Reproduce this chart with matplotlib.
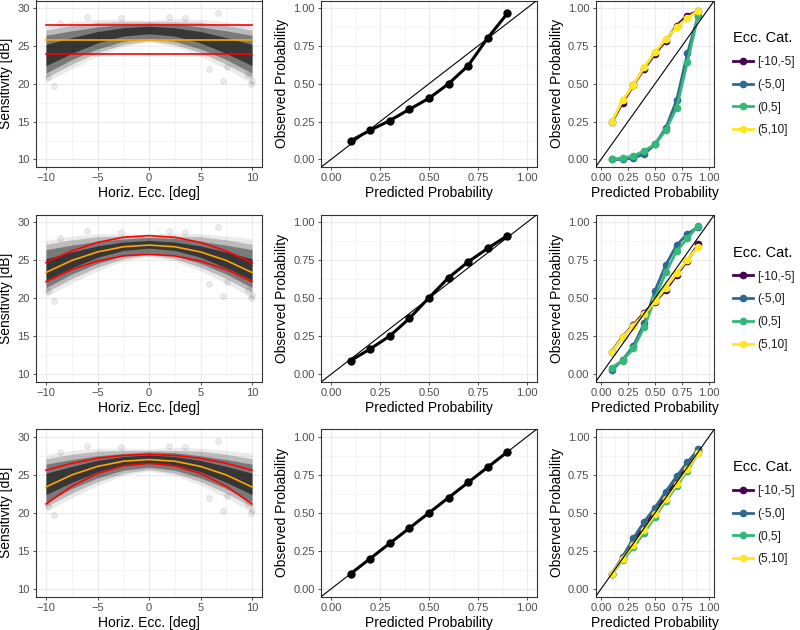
import matplotlib
matplotlib.use("Agg")
import matplotlib.pyplot as plt
from matplotlib.lines import Line2D

plt.rcParams['font.family'] = ['Liberation Sans', 'DejaVu Sans']

# --- data ---
ecc = [-10, -7.5, -5, -2.5, 0, 2.5, 5, 7.5, 10]

# point cloud of sensitivity vs eccentricity, drawn as density bands
cloud_outer_hi = [27.6, 28.2, 28.5, 28.5, 28.4, 28.6, 28.5, 28.2, 27.8]
cloud_outer_lo = [20.2, 22.0, 23.6, 24.9, 25.5, 24.9, 23.6, 22.0, 20.0]
cloud_mid_hi = [27.1, 27.7, 28.1, 28.2, 28.2, 28.2, 28.1, 27.7, 27.1]
cloud_mid_lo = [20.8, 22.6, 24.1, 25.2, 25.7, 25.2, 24.1, 22.6, 20.8]
cloud_dense_hi = [26.4, 27.0, 27.5, 27.8, 28.0, 27.9, 27.5, 27.0, 26.4]
cloud_dense_lo = [21.4, 23.2, 24.6, 25.6, 26.0, 25.6, 24.6, 23.2, 21.4]
cloud_core_hi = [25.2, 26.1, 26.9, 27.4, 27.6, 27.4, 26.9, 26.1, 25.2]
cloud_core_lo = [22.4, 24.0, 25.4, 26.3, 26.6, 26.3, 25.4, 24.0, 22.4]
outlier_x = [-9.2, 7.2, 9.9, 10.0, 5.8, 6.7, -6.0, -2.7, 1.9, 3.5, -9.8, 9.6, -8.6, 7.6]
outlier_y = [19.7, 20.3, 20.0, 20.4, 21.9, 29.4, 28.8, 28.7, 28.8, 28.7, 20.9, 21.1, 28.0, 22.2]

# fitted mean and interval per model
flat_mean = [25.75] * 9
flat_hi = [27.7] * 9
flat_lo = [23.9] * 9
quad_mean = [23.4, 24.98, 26.1, 26.78, 27.0, 26.78, 26.1, 24.98, 23.4]
quad_hi = [24.7, 26.23, 27.35, 28.03, 28.25, 28.03, 27.35, 26.23, 24.7]
quad_lo = [22.2, 23.78, 24.9, 25.58, 25.8, 25.58, 24.9, 23.78, 22.2]
het_hi = [25.6, 26.51, 27.16, 27.55, 27.68, 27.55, 27.16, 26.51, 25.6]
het_lo = [21.16, 23.5, 25.17, 26.17, 26.5, 26.17, 25.17, 23.5, 21.16]

fits = [
    (flat_mean, flat_hi, flat_lo),
    (quad_mean, quad_hi, quad_lo),
    (quad_mean, het_hi, het_lo),
]

# calibration, all eccentricities
pred = [0.1, 0.2, 0.3, 0.4, 0.5, 0.6, 0.7, 0.8, 0.9]
calib_all = [
    [0.123, 0.193, 0.257, 0.331, 0.404, 0.50, 0.62, 0.803, 0.965],
    [0.09, 0.167, 0.252, 0.368, 0.504, 0.636, 0.74, 0.829, 0.912],
    [0.10, 0.20, 0.30, 0.40, 0.50, 0.60, 0.70, 0.80, 0.90],
]

# calibration by eccentricity category
cats = ['[-10,-5]', '(-5,0]', '(0,5]', '(5,10]']
cat_colors = ['#440154', '#31688E', '#35B779', '#FDE725']
calib_cat = [
    [
        [0.245, 0.375, 0.49, 0.60, 0.697, 0.785, 0.884, 0.95, 0.98],
        [0.0, 0.0, 0.01, 0.035, 0.10, 0.208, 0.39, 0.70, 0.95],
        [0.0, 0.01, 0.022, 0.057, 0.10, 0.193, 0.342, 0.643, 0.95],
        [0.248, 0.39, 0.493, 0.61, 0.708, 0.796, 0.873, 0.934, 0.982],
    ],
    [
        [0.149, 0.248, 0.325, 0.406, 0.478, 0.555, 0.654, 0.748, 0.855],
        [0.028, 0.094, 0.186, 0.335, 0.55, 0.72, 0.85, 0.923, 0.97],
        [0.044, 0.09, 0.17, 0.31, 0.50, 0.67, 0.81, 0.895, 0.978],
        [0.145, 0.245, 0.32, 0.395, 0.48, 0.57, 0.665, 0.755, 0.84],
    ],
    [
        [0.10, 0.205, 0.31, 0.41, 0.51, 0.61, 0.71, 0.81, 0.905],
        [0.096, 0.212, 0.333, 0.442, 0.534, 0.64, 0.74, 0.832, 0.917],
        [0.10, 0.19, 0.274, 0.37, 0.475, 0.578, 0.676, 0.777, 0.895],
        [0.10, 0.20, 0.29, 0.39, 0.49, 0.59, 0.69, 0.79, 0.895],
    ],
]

W, H = 800, 630
fig = plt.figure(figsize=(8, 6.3), dpi=100)

cols = [(35.7, 262.3), (321.2, 536.8), (595.6, 714.4)]
rows = [(0.5, 167.0), (214.7, 381.9), (429.1, 596.6)]


def make_ax(c, r):
    x0, x1 = cols[c]
    y0, y1 = rows[r]
    ax = fig.add_axes([x0 / W, 1 - y1 / H, (x1 - x0) / W, (y1 - y0) / H])
    ax.set_facecolor('white')
    for s in ax.spines.values():
        s.set_color('#333333')
        s.set_linewidth(0.8)
    ax.tick_params(length=2.5, width=0.6, color='#333333',
                   labelcolor='#4D4D4D', labelsize=8, pad=2)
    ax.grid(True, which='major', color='#EBEBEB', lw=0.8, zorder=0)
    ax.grid(True, which='minor', color='#F2F2F2', lw=0.5, zorder=0)
    ax.tick_params(which='minor', length=0)
    ax.set_axisbelow(True)
    return ax


def style_prob(ax):
    ax.set_xlim(-0.05, 1.05)
    ax.set_ylim(-0.05, 1.05)
    ticks = [0, 0.25, 0.5, 0.75, 1.0]
    ax.set_xticks(ticks)
    ax.set_yticks(ticks)
    ax.set_xticks([0.125, 0.375, 0.625, 0.875], minor=True)
    ax.set_yticks([0.125, 0.375, 0.625, 0.875], minor=True)
    ax.set_xticklabels(['0.00', '0.25', '0.50', '0.75', '1.00'])
    ax.set_yticklabels(['0.00', '0.25', '0.50', '0.75', '1.00'])
    ax.set_xlabel('Predicted Probability', fontsize=10, labelpad=2)
    ax.set_ylabel('Observed Probability', fontsize=10, labelpad=3)
    ax.axline((0, 0), slope=1, color='black', lw=0.8, zorder=5)


for r in range(3):
    # left: sensitivity cloud with fit
    ax = make_ax(0, r)
    ax.fill_between(ecc, cloud_outer_lo, cloud_outer_hi, color='black', alpha=0.08, lw=0, zorder=1)
    ax.fill_between(ecc, cloud_mid_lo, cloud_mid_hi, color='black', alpha=0.2, lw=0, zorder=1)
    ax.fill_between(ecc, cloud_dense_lo, cloud_dense_hi, color='black', alpha=0.35, lw=0, zorder=1)
    ax.fill_between(ecc, cloud_core_lo, cloud_core_hi, color='black', alpha=0.55, lw=0, zorder=1)
    ax.scatter(outlier_x, outlier_y, s=18, color='black', alpha=0.08, lw=0.6, zorder=1)
    mean, hi, lo = fits[r]
    ax.plot(ecc, hi, color='red', lw=1.2, zorder=3)
    ax.plot(ecc, lo, color='red', lw=1.2, zorder=3)
    ax.plot(ecc, mean, color='orange', lw=1.2, zorder=3)
    ax.set_xlim(-11, 11)
    ax.set_ylim(9, 31)
    ax.set_xticks([-10, -5, 0, 5, 10])
    ax.set_yticks([10, 15, 20, 25, 30])
    ax.set_xticks([-7.5, -2.5, 2.5, 7.5], minor=True)
    ax.set_yticks([12.5, 17.5, 22.5, 27.5], minor=True)
    ax.set_xlabel('Horiz. Ecc. [deg]', fontsize=10, labelpad=2)
    ax.set_ylabel('Sensitivity [dB]', fontsize=10, labelpad=3)

    # middle: overall calibration
    ax = make_ax(1, r)
    ax.plot(pred, calib_all[r], color='black', lw=2.2, marker='o', ms=5, zorder=4)
    style_prob(ax)

    # right: calibration per eccentricity category
    ax = make_ax(2, r)
    for vals, col in zip(calib_cat[r], cat_colors):
        ax.plot(pred, vals, color=col, lw=2, marker='o', ms=4.5, zorder=4)
    style_prob(ax)
    handles = [Line2D([], [], color=c, lw=2, marker='o', ms=4.5) for c in cat_colors]
    leg = ax.legend(handles, cats, title='Ecc. Cat.', loc='center left',
                    bbox_to_anchor=(1.07, 0.5), frameon=False, fontsize=8.6,
                    title_fontsize=10.5, alignment='left', handlelength=1.6,
                    labelspacing=0.9, handletextpad=0.4)
    for t in leg.get_texts():
        t.set_color('#1A1A1A')

fig.savefig('out.png', dpi=100)
